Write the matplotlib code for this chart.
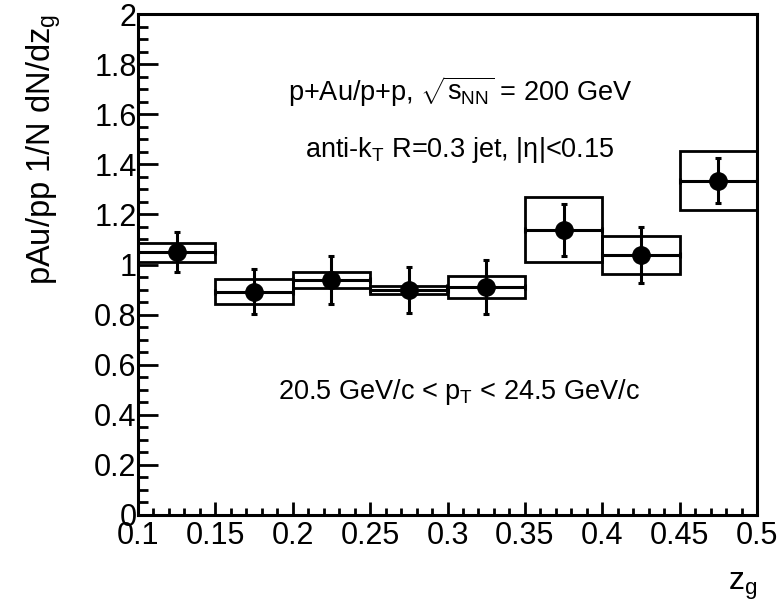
import numpy as np
import matplotlib
matplotlib.use("Agg")
import matplotlib.pyplot as plt
from matplotlib.ticker import AutoMinorLocator, FormatStrFormatter

# z_g bins (centres) and pAu/pp ratio with stat and sys uncertainties
zg_centres = [0.125, 0.175, 0.225, 0.275, 0.325, 0.375, 0.425, 0.475]
ratio = [1.049, 0.891, 0.938, 0.898, 0.911, 1.138, 1.038, 1.335]
stat_err = [0.079, 0.090, 0.095, 0.092, 0.107, 0.105, 0.110, 0.089]
sys_err = [0.038, 0.050, 0.032, 0.017, 0.045, 0.130, 0.077, 0.118]
bin_width = 0.05

plt.rcParams['font.family'] = ['Liberation Sans', 'DejaVu Sans']
plt.rcParams['mathtext.fontset'] = 'custom'
plt.rcParams['mathtext.rm'] = 'Liberation Sans'
plt.rcParams['mathtext.it'] = 'Liberation Sans:italic'
plt.rcParams['mathtext.bf'] = 'Liberation Sans:bold'

fig = plt.figure(figsize=(7.82, 6.05), dpi=100)
ax = fig.add_axes([138 / 782, 1 - 515 / 605, 619 / 782, 501 / 605])

x = np.array(zg_centres)
y = np.array(ratio)
sys = np.array(sys_err)

# systematic boxes
ax.bar(x, 2 * sys, bottom=y - sys, width=bin_width, fill=False,
       edgecolor='black', linewidth=2.0, zorder=2)

# points with stat errors, x error spans the bin
ax.errorbar(x, y, yerr=stat_err, xerr=bin_width / 2, fmt='o', color='black',
            markersize=12.5, elinewidth=2.2, capsize=2.5, capthick=2.2, zorder=3)

ax.set_xlim(0.1, 0.5)
ax.set_ylim(0, 2)

ax.set_xticks(np.arange(0.1, 0.501, 0.05))
ax.set_yticks(np.arange(0, 2.001, 0.2))
ax.xaxis.set_major_formatter(FormatStrFormatter('%g'))
ax.yaxis.set_major_formatter(FormatStrFormatter('%g'))
ax.xaxis.set_minor_locator(AutoMinorLocator(5))
ax.yaxis.set_minor_locator(AutoMinorLocator(4))

ax.tick_params(which='both', direction='in', top=False, right=False,
               width=2.0, labelsize=22, pad=1)
ax.tick_params(axis='x', which='major', pad=4)
ax.tick_params(axis='y', which='major', length=14.5)
ax.tick_params(axis='y', which='minor', length=7.5)
ax.tick_params(axis='x', which='major', length=9.5)
ax.tick_params(axis='x', which='minor', length=5)
for s in ax.spines.values():
    s.set_linewidth(2.2)

fig.text(44 / 782, 1 - 14 / 605, r'pAu/pp 1/N dN/dz$_{\mathrm{g}}$', rotation=90,
         ha='center', va='top', fontsize=23.5)
fig.text(757 / 782, 1 - 590 / 605, r'z$_{\mathrm{g}}$', ha='right', va='baseline',
         fontsize=23)

ax.text(460 / 782, 1 - 92 / 605, r'p+Au/p+p, $\sqrt{\mathrm{s}_{\mathrm{NN}}}$ = 200 GeV',
        transform=fig.transFigure, ha='center', va='center', fontsize=19.5)
ax.text(460 / 782, 1 - 150 / 605, r'anti-k$_{\mathrm{T}}$ R=0.3 jet, |η|<0.15',
        transform=fig.transFigure, ha='center', va='center', fontsize=19.5)
ax.text(459 / 782, 1 - 392 / 605, r'20.5 GeV/c < p$_{\mathrm{T}}$ < 24.5 GeV/c',
        transform=fig.transFigure, ha='center', va='center', fontsize=19.5)

fig.savefig('out.png', dpi=100)
